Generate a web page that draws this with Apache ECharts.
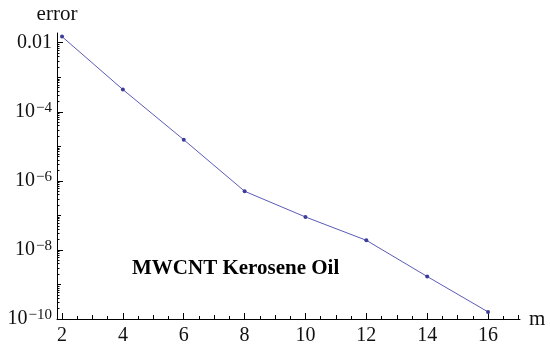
<!DOCTYPE html>
<html>
<head>
<meta charset="utf-8">
<script src="https://cdn.jsdelivr.net/npm/echarts@6/dist/echarts.min.js"></script>
<style>html,body{margin:0;padding:0;background:#fff}#c{width:550px;height:349px}</style>
</head>
<body>
<div id="c"></div>
<script>
// ---- data ----
const mValues = [2, 4, 6, 8, 10, 12, 14, 16];
const errorValues = [1.5e-2, 4.4e-4, 1.55e-5, 5.0e-7, 9.0e-8, 1.9e-8, 1.7e-9, 1.6e-10];
const xTickValues = [2, 4, 6, 8, 10, 12, 14, 16];
const xMidTicks = [3, 5, 7, 9, 11, 13, 15, 17];
const xMinorTicks = [2.5, 3.5, 4.5, 5.5, 6.5, 7.5, 8.5, 9.5, 10.5, 11.5, 12.5, 13.5, 14.5, 15.5, 16.5];
const yTickValues = [1e-10, 1e-8, 1e-6, 1e-4, 1e-2];
const yTickLabels = ['10^-10', '10^-8', '10^-6', '10^-4', '0.01'];
const yMidTicks = [1e-9, 1e-7, 1e-5, 1e-3];
const yMinorMultipliers = [2, 3, 4, 5, 6, 7, 8, 9];
const yMinorDecades = [-10, -9, -8, -7, -6, -5, -4, -3, -2];
const title = 'MWCNT Kerosene Oil';

const yMin = 1e-10, yMax = 0.0191;
const xMin = 1.835, xMax = 17.05;

const yMinorTicks = [];
yMinorDecades.forEach(d => yMinorMultipliers.forEach(k => {
  const v = k * Math.pow(10, d);
  if (v <= yMax) yMinorTicks.push(v);
}));

const serif = 'Liberation Serif';
const txt = '#111';

function yLabel(v) {
  const e = (v > 0 && v < 1) ? Math.round(Math.log10(v)) : Math.round(v);
  const idx = yTickValues.findIndex(t => Math.round(Math.log10(t)) === e);
  const s = idx >= 0 ? yTickLabels[idx] : '';
  if (s.indexOf('^') < 0) return '{b|' + s + '}';
  const parts = s.split('^');
  return '{b|' + parts[0] + '}{s|' + parts[1].replace('-', '\u2212') + '}';
}

function xAxisDef(ticks, len, showLine, showLabel, extra) {
  return Object.assign({
    type: 'value', min: xMin, max: xMax, position: 'bottom',
    splitLine: { show: false },
    axisLine: { show: showLine, onZero: false, lineStyle: { color: '#000', width: 1 } },
    axisTick: { show: true, inside: true, length: len, customValues: ticks, lineStyle: { color: '#000', width: 1 } },
    axisLabel: { show: showLabel, customValues: ticks, margin: 7, color: txt, fontFamily: serif, fontSize: 20 }
  }, extra || {});
}
function yAxisDef(ticks, len, showLine, showLabel, extra) {
  return Object.assign({
    type: 'log', logBase: 10, min: yMin, max: yMax, position: 'left',
    splitLine: { show: false },
    axisLine: { show: showLine, onZero: false, lineStyle: { color: '#000', width: 1 } },
    axisTick: { show: true, inside: true, length: len, customValues: ticks, lineStyle: { color: '#000', width: 1 } },
    axisLabel: {
      show: showLabel, customValues: ticks, margin: 5, formatter: yLabel,
      rich: {
        b: { fontFamily: serif, fontSize: 20, color: txt, lineHeight: 22 },
        s: { fontFamily: serif, fontSize: 15, color: txt, verticalAlign: 'top', lineHeight: 15, padding: [0, 0, 0, 1] }
      }
    }
  }, extra || {});
}

const chart = echarts.init(document.getElementById('c'), null, { renderer: 'canvas' });
chart.setOption({
  animation: false,
  backgroundColor: '#fff',
  title: {
    text: title, left: 132, top: 258, padding: 0,
    textStyle: { fontFamily: serif, fontSize: 21, fontWeight: 'bold', color: '#000' }
  },
  grid: { left: 57, right: 30, top: 33, bottom: 30, containLabel: false },
  xAxis: [
    xAxisDef(xTickValues, 6, true, true, {
      name: 'm', nameLocation: 'end', nameGap: 9,
      nameTextStyle: { fontFamily: serif, fontSize: 21, color: txt, verticalAlign: 'middle' }
    }),
    xAxisDef(xMidTicks, 4, false, false),
    xAxisDef(xMinorTicks, 3, false, false)
  ],
  yAxis: [
    yAxisDef(yTickValues, 6, true, true, {
      name: 'error', nameLocation: 'end', nameGap: 8,
      nameTextStyle: { fontFamily: serif, fontSize: 21, color: txt, align: 'center' }
    }),
    yAxisDef(yMidTicks, 4, false, false),
    yAxisDef(yMinorTicks, 2.5, false, false)
  ],
  series: [{
    type: 'line',
    xAxisIndex: 0, yAxisIndex: 0,
    data: mValues.map((m, i) => [m, errorValues[i]]),
    symbol: 'circle', symbolSize: 4,
    lineStyle: { color: '#5b5bb8', width: 1 },
    itemStyle: { color: '#3d3d99' }
  }]
});
</script>
</body>
</html>
